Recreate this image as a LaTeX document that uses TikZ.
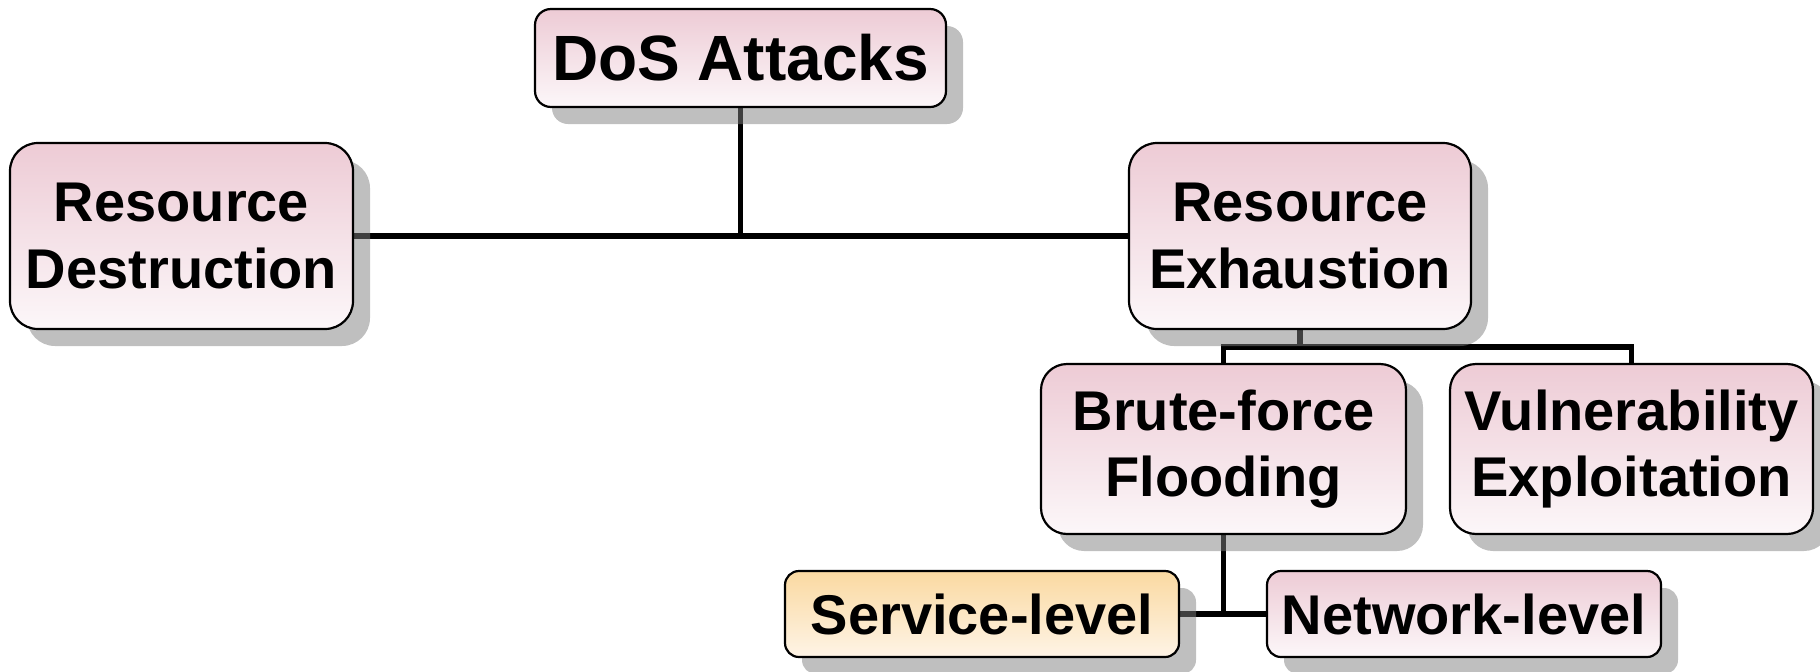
\documentclass[tikz,border=0pt]{standalone}
\usepackage{fontspec}
\setmainfont{Liberation Sans}
\usetikzlibrary{shadows}
\definecolor{pinktop}{HTML}{EDCBD5}
\definecolor{pinkbot}{HTML}{FCF7F9}
\definecolor{ambertop}{HTML}{FAD9A1}
\definecolor{amberbot}{HTML}{FEF4E6}
\pgfdeclarelayer{wires}
\pgfsetlayers{wires,main}
\tikzset{
  box/.style={draw=black, line width=1.1pt, inner sep=0pt, align=center,
    top color=pinktop, bottom color=pinkbot,
    drop shadow={shadow xshift=8.5pt, shadow yshift=-8.5pt, fill=black!50, opacity=0.5},
    font=\fontsize{28}{33}\selectfont\bfseries},
  amberbox/.style={box, top color=ambertop, bottom color=amberbot},
  wire/.style={line width=2.7pt, draw=black}
}
\begin{document}
\begin{tikzpicture}[x=0.5pt, y=-0.5pt]
  \useasboundingbox (0,0) rectangle (1820,671);
  \node[box, minimum width=205.5pt, minimum height=49pt, rounded corners=8pt,
        font=\fontsize{32}{38}\selectfont\bfseries] (dos) at (740.5,58) {DoS Attacks};
  \node[box, minimum width=171.5pt, minimum height=93pt, rounded corners=14pt] (rd) at (181.5,236) {Resource\\Destruction};
  \node[box, minimum width=171pt, minimum height=93pt, rounded corners=14pt] (re) at (1300,236) {Resource\\Exhaustion};
  \node[box, minimum width=182.5pt, minimum height=85pt, rounded corners=13pt] (bf) at (1223.5,449) {Brute-force\\Flooding};
  \node[box, minimum width=181.5pt, minimum height=85pt, rounded corners=13pt] (vu) at (1631.5,449) {Vulnerability\\Exploitation};
  \node[amberbox, minimum width=197pt, minimum height=43pt, rounded corners=7pt] (sl) at (982,614) {Service-level};
  \node[box, minimum width=197pt, minimum height=43pt, rounded corners=7pt] (nl) at (1464,614) {Network-level};
  \coordinate (j1) at (1300,347);
  \begin{pgfonlayer}{wires}
    \draw[wire] (dos.south) -- (dos.south |- rd.east);
    \draw[wire] (rd.east) -- (re.west);
    \draw[wire] (re.south) -- (j1);
    \draw[wire] (bf.north) |- (j1) -| (vu.north);
    \draw[wire] (bf.south) -- (bf.south |- sl.east);
    \draw[wire] (sl.east) -- (nl.west);
  \end{pgfonlayer}
\end{tikzpicture}
\end{document}
